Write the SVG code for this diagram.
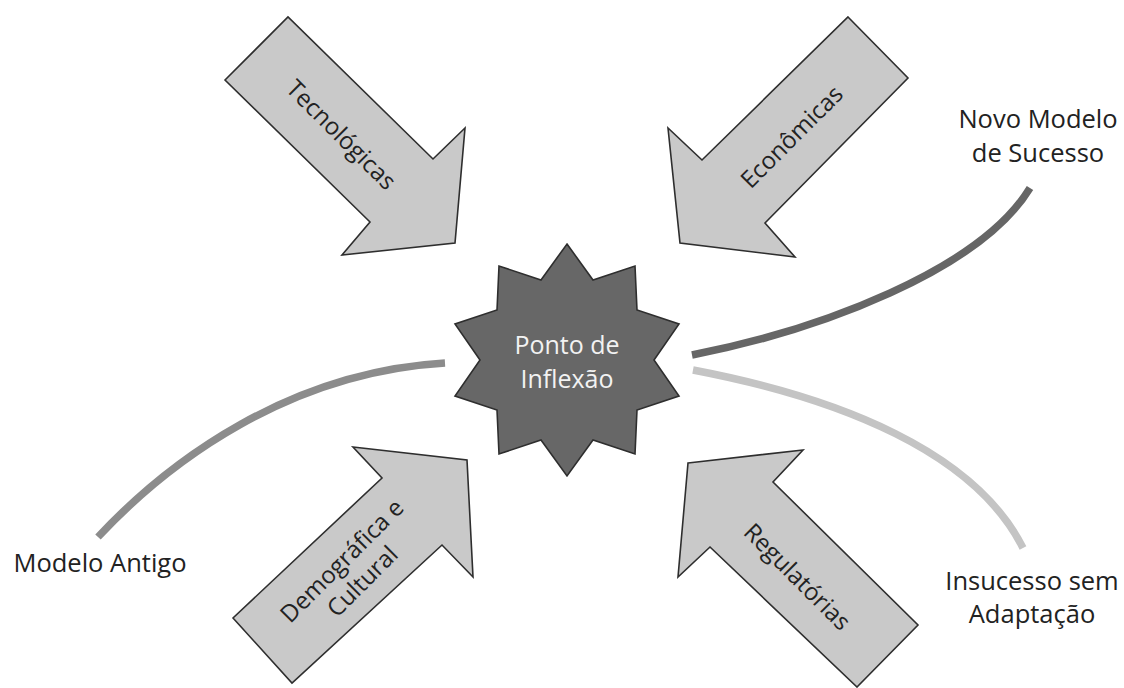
<svg xmlns="http://www.w3.org/2000/svg" width="1124" height="688" viewBox="0 0 1124 688">
<style>
.arrow{fill:#c9c9c9;stroke:#2e2e2e;stroke-width:1.6;stroke-linejoin:miter}
.lbl{font-family:"Open Sans","Liberation Sans",sans-serif;font-size:24px;fill:#222;text-anchor:middle}
.out{font-size:25.5px}
.star{fill:#676767;stroke:#2e2e2e;stroke-width:1.6}
.startxt{font-family:"Open Sans","Liberation Sans",sans-serif;font-size:25px;fill:#f2f2f2;text-anchor:middle}
.curve{fill:none;stroke-width:7.5}
</style>
<rect width="1124" height="688" fill="#ffffff"/>
<g id="connectors">
<path class="curve" stroke="#8c8c8c" d="M98,537 C170,460 290,372 445,363"/>
<path class="curve" stroke="#666666" d="M692,355 C820,330 980,270 1030,188"/>
<path class="curve" stroke="#c4c4c4" d="M693,370 C840,398 975,452 1023,548"/>
</g>
<g id="tecnologicas">
<polygon class="arrow" points="225,80 288,17 433,159 465,128 455,243 342,255 370,222"/>
<text class="lbl" transform="translate(341,135) rotate(45)" y="8">Tecnológicas</text>
</g>
<g id="economicas">
<polygon class="arrow" points="848,17 908,78 765,223 795,257 680,243 668,128 702,160"/>
<text class="lbl" transform="translate(792,137) rotate(-45)" y="8">Econômicas</text>
</g>
<g id="demografica">
<polygon class="arrow" points="233,618 292,683 442,545 473,577 467,460 353,447 382,478"/>
<text class="lbl" transform="translate(352,571) rotate(-45)"><tspan x="0" y="-6">Demográfica e</tspan><tspan x="0" y="23">Cultural</tspan></text>
</g>
<g id="regulatorias">
<polygon class="arrow" points="688,463 803,450 773,482 918,625 857,687 710,547 678,577"/>
<text class="lbl" transform="translate(797,577) rotate(45)" y="8">Regulatórias</text>
</g>
<g id="ponto">
<polygon class="star" points="567,244 593,280 635,266 637,310 679,324 654,360 679,396 637,410 635,454 593,440 567,476 541,440 499,454 497,410 455,396 480,360 455,324 497,310 499,266 541,280"/>
<text class="startxt" x="567" y="354">Ponto de</text>
<text class="startxt" x="567" y="388">Inflexão</text>
</g>
<g id="novo">
<text class="lbl out" x="1038" y="128">Novo Modelo</text>
<text class="lbl out" x="1038" y="162">de Sucesso</text>
</g>
<g id="antigo">
<text class="lbl out" x="100" y="572">Modelo Antigo</text>
</g>
<g id="insucesso">
<text class="lbl out" x="1032" y="590">Insucesso sem</text>
<text class="lbl out" x="1032" y="623">Adaptação</text>
</g>
</svg>
